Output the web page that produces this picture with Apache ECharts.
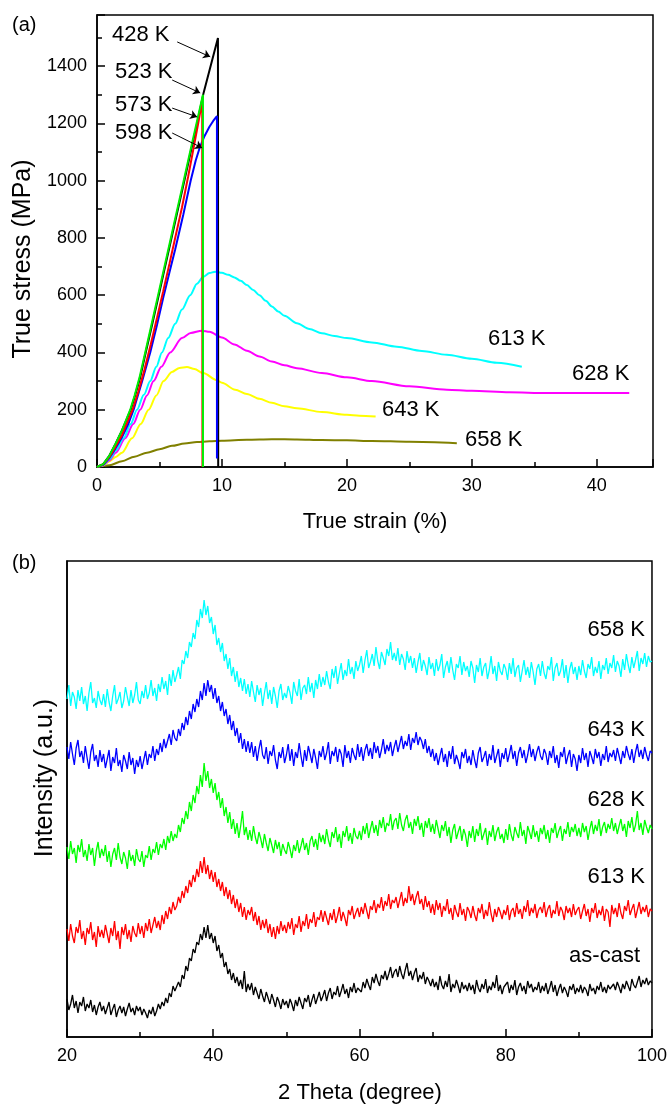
<!DOCTYPE html>
<html>
<head>
<meta charset="utf-8">
<script src="https://cdn.jsdelivr.net/npm/echarts@6/dist/echarts.min.js"></script>
<style>
html, body { margin: 0; padding: 0; background: #fff; }
#main { width: 670px; height: 1106px; }
</style>
</head>
<body>
<div id="main"></div>
<script>
// (a) 真应力-真应变曲线, 每个点 [应变 %, 应力 MPa]
var curve428 = [[0,0],[0.5,10],[1,40],[1.5,82],[2,128],[2.7,200],[3.05,250],[3.45,312],[3.9,400],[4.4,495],[4.9,592],[5.4,690],[5.9,787],[6.4,885],[6.9,982],[7.45,1090],[8,1197],[8.53,1306],[9.68,1498],[9.7,0]];
var curve523 = [[0,0],[0.5,10],[1,40],[1.5,82],[2,128],[2.66,200],[3,248],[3.4,312],[3.86,400],[4.35,495],[4.85,592],[5.35,690],[5.85,787],[6.35,885],[6.85,982],[7.4,1090],[7.95,1197],[8.48,1300],[8.48,0]];
var curve573 = [[0,0],[0.5,9],[1,35],[1.5,72],[2,112],[2.85,200],[3.3,262],[3.8,340],[4.3,428],[4.8,520],[5.3,614],[5.8,710],[6.3,808],[6.8,906],[7.3,1015],[7.8,1130],[8.1,1200],[8.42,1278],[8.44,0]];
var curve598 = [[0,0],[0.5,8],[1,32],[1.5,66],[2,104],[2.5,150],[2.93,200],[3.6,298],[4.26,400],[4.8,496],[5.35,600],[5.8,680],[6.26,760],[6.9,880],[7.5,1000],[7.9,1070],[8.2,1112],[8.6,1155],[9,1188],[9.3,1208],[9.6,1225],[9.6,30]];
var curve613 = [[0,0],[0.5,7],[1,28],[1.5,58],[2.13,100],[2.7,150],[3.2,200],[3.75,252],[4.26,300],[4.75,350],[5.2,400],[5.7,450],[6.26,500],[6.8,550],[7.46,600],[8,640],[8.5,664],[9,677],[9.46,682],[10,678],[10.5,671],[11,662],[11.5,650],[12,635],[12.5,618],[13,600],[13.5,580],[14,560],[14.5,543],[15,528],[16,502],[17,482],[18,467],[19,457],[20,450],[22,435],[24,420],[26,405],[28,392],[30,378],[32,364],[34,350]];
var curve628 = [[0,0],[0.5,6],[1,24],[1.5,50],[2.26,100],[2.9,150],[3.46,200],[4,250],[4.53,300],[5.15,350],[5.86,400],[6.8,450],[7.5,468],[8.4,476],[9,472],[10,452],[11,428],[12,406],[13,386],[14,368],[15,355],[16,345],[18,328],[20,313],[22,300],[25,282],[28,270],[30,266],[33,261],[36,258],[40,258],[42.6,258]];
var curve643 = [[0,0],[0.5,6],[1,20],[1.5,35],[2,50],[2.8,100],[3.5,150],[4.13,200],[4.75,250],[5.33,300],[6,332],[6.6,346],[7.2,349],[7.8,342],[8.5,328],[9.6,303],[10,294],[11.06,270],[12,255],[13,238],[14,224],[15,212],[16,205],[18,192],[20,182],[21,179],[22.3,176]];
var curve658 = [[0,0],[1,6],[2,20],[3,36],[4,50],[5,62],[6,74],[7,82],[8,87],[9,90],[10,92],[12,95],[14,97],[16,96],[18,94],[20,93],[22,91],[25,88],[28.8,83]];

var strainTicks = [0, 10, 20, 30, 40];
var stressTicks = [0, 200, 400, 600, 800, 1000, 1200, 1400];

// (b) XRD 谱, 2θ 从 20 到 100, 步长 0.25 (强度为堆叠后的 a.u.)
var thetaStart = 20, thetaStep = 0.25;
var xrdAsCast = [
38,27,33,42,29,36,24,35,31,40,26,33,29,37,25,32,22,30,35,26,
31,23,29,35,22,28,33,20,27,31,24,30,21,28,34,25,29,22,31,26,
30,22,28,24,19,27,23,30,21,26,33,28,35,31,39,34,44,40,51,46,
45,55,50,62,58,71,66,79,76,88,84,95,92,103,97,110,99,112,98,104,
94,101,86,92,79,84,70,75,63,68,57,64,54,60,51,57,48,66,45,53,
47,54,42,50,44,38,48,41,35,45,39,33,43,37,30,40,35,28,38,32,
36,29,38,33,26,37,31,40,34,28,39,35,42,30,37,43,33,39,45,36,
41,47,36,44,49,38,45,42,51,40,46,53,43,48,39,50,45,54,44,49,
51,45,55,49,58,52,47,60,54,63,56,51,62,58,66,57,63,70,59,65,
68,60,71,63,58,67,74,61,66,57,64,69,55,62,58,65,53,60,56,51,
58,50,55,47,61,52,48,56,50,63,45,53,49,57,51,44,55,48,52,46,
54,47,52,43,57,49,45,53,48,58,44,51,47,55,49,62,46,52,43,50,
48,55,44,52,47,57,42,50,54,46,51,43,56,49,53,45,50,47,55,44,
51,46,54,43,49,56,45,52,41,48,53,44,50,46,40,51,47,53,43,49,
45,52,44,50,47,41,53,46,49,43,51,47,55,45,50,44,52,48,46,53,
47,55,50,44,53,48,56,51,46,58,52,49,55,61,50,57,53,59,52,56,
54];
var xrd613 = [
108,96,113,101,94,110,104,117,98,106,92,109,103,115,97,105,90,111,100,107,
99,112,103,94,109,101,116,97,106,88,110,102,113,98,107,95,111,104,100,114,
103,111,99,114,106,118,104,112,120,109,116,107,122,113,126,118,130,123,135,127,
131,140,134,146,139,151,144,157,150,162,155,168,160,176,164,180,163,172,158,167,
155,165,150,158,146,155,141,150,138,147,133,142,129,138,125,134,120,130,117,127,
122,130,116,125,112,121,107,117,109,118,104,113,100,110,98,111,103,116,106,112,
104,115,108,119,102,113,109,121,105,116,111,123,108,118,114,125,110,120,117,127,
115,126,119,112,124,117,128,114,121,130,116,125,119,111,127,122,131,118,124,129,
120,130,123,134,126,118,131,127,137,124,133,129,140,126,136,131,143,128,137,134,
140,129,137,145,131,139,134,151,136,143,132,140,146,133,138,127,141,130,136,124,
133,122,137,127,134,120,131,126,138,123,129,117,132,125,120,134,122,128,116,130,
126,119,131,122,116,129,124,133,118,127,121,135,123,115,128,120,130,125,118,127,
122,132,117,126,129,120,134,123,128,118,131,125,137,121,129,124,133,119,127,130,
124,135,120,128,132,119,127,123,136,121,130,126,117,131,124,129,120,133,122,127,
130,118,126,133,121,128,115,129,124,134,119,127,122,131,116,128,125,110,132,123,
129,120,134,124,118,131,126,137,122,128,133,119,127,135,123,130,125,132,120,128,
126];
var xrd628 = [
190,178,196,183,189,174,192,185,198,180,187,176,193,182,189,171,186,195,179,188,
181,192,175,186,170,183,189,177,194,180,173,185,179,168,187,176,182,171,188,178,
175,186,170,182,179,191,177,188,184,195,182,193,189,198,187,201,194,206,196,203,
199,212,205,219,213,226,218,235,226,242,234,251,243,262,250,274,256,266,249,258,
244,254,237,245,229,239,221,230,214,225,208,218,203,214,199,211,226,202,210,197,
207,196,211,200,193,205,198,189,203,194,186,199,192,184,197,188,195,181,193,187,
183,195,188,179,192,186,197,184,191,199,187,194,182,196,201,190,198,187,204,195,
202,193,208,197,190,205,199,210,195,203,189,206,200,211,196,204,193,209,201,198,
206,197,211,203,214,199,208,216,204,212,201,217,209,220,205,214,211,223,207,216,
219,208,224,212,206,217,222,209,215,203,218,211,221,207,214,200,216,209,219,205,
213,203,217,208,199,212,206,216,201,210,194,207,213,198,205,211,196,208,202,190,
206,199,211,195,208,201,214,197,203,209,192,206,200,212,196,205,210,198,203,194,
208,197,213,202,196,210,204,199,215,201,207,193,211,205,198,212,200,206,195,209,
203,212,198,207,194,209,204,214,199,206,211,196,208,203,215,200,210,205,213,201,
209,200,214,205,211,197,208,216,203,212,206,218,201,210,215,204,213,208,219,206,
214,203,211,218,206,213,200,216,209,220,205,212,226,207,214,202,217,210,204,212,
208];
var xrd643 = [
290,278,295,283,272,289,297,280,286,274,291,279,268,285,293,276,282,270,287,275,
283,269,278,287,266,280,274,289,271,277,265,282,276,268,285,272,279,263,277,270,
281,268,277,286,272,283,279,291,276,288,282,294,285,298,289,296,303,292,307,299,
296,308,301,314,307,320,312,326,318,333,325,338,330,346,337,354,341,357,345,352,
338,349,334,341,326,335,321,328,313,322,307,316,301,309,294,304,288,298,285,296,
284,295,280,291,276,288,297,282,278,290,273,286,281,292,277,268,285,279,290,274,
282,293,276,288,271,285,279,294,281,270,287,276,291,283,274,288,279,268,286,280,
291,277,284,295,273,286,281,290,275,288,283,270,292,279,286,274,289,282,277,293,
280,290,276,287,293,281,289,278,295,284,291,279,287,298,283,292,286,295,281,290,
297,285,293,301,288,296,291,303,287,299,294,305,292,300,296,288,298,284,291,280,
288,276,284,272,281,289,275,283,270,286,278,291,273,282,276,268,285,279,288,274,
281,272,287,277,269,284,290,275,280,286,271,283,277,292,274,281,288,270,284,278,
289,275,283,292,278,286,271,284,290,279,287,274,282,293,280,288,276,285,291,281,
277,288,283,272,286,279,291,274,282,269,285,280,290,273,281,287,270,283,278,266,
282,274,289,277,284,270,286,280,273,288,279,285,271,283,277,291,275,284,280,287,
276,289,281,273,286,279,291,283,277,288,274,285,293,280,287,278,290,282,276,286,
284];
var xrd658 = [
338,352,331,345,340,328,347,336,350,333,341,326,344,355,334,339,329,346,337,332,
343,330,348,335,326,341,352,333,338,345,329,336,350,340,331,347,334,342,355,337,
333,346,339,352,338,344,357,341,349,336,353,345,360,348,356,342,363,351,367,355,
362,370,358,377,373,386,379,395,390,404,398,417,410,428,419,437,422,431,414,420,
403,412,392,399,385,394,376,383,368,379,361,370,355,366,350,359,346,358,343,353,
340,356,345,335,352,342,349,331,344,355,338,347,333,350,341,329,346,353,337,344,
339,351,344,333,355,346,341,358,337,349,352,343,360,345,354,339,357,348,363,350,
360,352,366,355,348,368,359,371,353,364,374,357,367,361,378,363,370,358,376,366,
372,381,364,377,387,369,375,383,371,390,376,368,385,379,372,388,381,395,377,384,
376,389,372,383,378,367,386,374,381,369,379,364,375,384,366,377,371,362,380,368,
374,361,378,366,372,383,359,370,376,364,380,367,357,373,369,381,362,375,366,371,
360,376,369,354,372,365,379,361,370,374,358,367,381,363,371,356,375,366,362,373,
368,357,374,363,379,360,369,372,355,366,377,362,370,359,375,365,352,368,373,361,
376,364,358,371,367,380,356,369,374,361,366,378,359,372,354,368,375,363,370,357,
371,362,377,366,359,373,368,380,361,370,364,376,358,372,367,379,363,374,369,382,
365,376,371,360,378,367,383,372,364,380,369,377,386,366,379,373,384,370,381,375,
376];
var thetaTicks = [20, 40, 60, 80, 100];

var FONT = 'Liberation Sans, Arial, sans-serif';

// 把强度数组配上 2θ
function withTheta(arr) {
    var out = [];
    for (var i = 0; i < arr.length; i++) {
        out.push([thetaStart + i * thetaStep, arr[i]]);
    }
    return out;
}

function stressLine(name, data, color, smooth) {
    return {
        type: 'line', name: name, xAxisIndex: 0, yAxisIndex: 0,
        data: data, showSymbol: false, symbol: 'none',
        smooth: smooth || false, smoothMonotone: 'x',
        lineStyle: { color: color, width: 2 }, silent: true
    };
}

function xrdLine(name, data, color) {
    return {
        type: 'line', name: name, xAxisIndex: 1, yAxisIndex: 1,
        data: withTheta(data), showSymbol: false, symbol: 'none',
        lineStyle: { color: color, width: 1.3 }, silent: true
    };
}

function axisBase() {
    return {
        type: 'value',
        axisLine: { show: true, lineStyle: { color: '#000', width: 1.5 } },
        axisTick: { show: true, inside: true, length: 8, lineStyle: { color: '#000', width: 1.5 } },
        minorTick: { show: true, splitNumber: 2, length: 5, lineStyle: { color: '#000', width: 1.5 } },
        splitLine: { show: false },
        axisLabel: { color: '#000', fontSize: 18, fontFamily: FONT, margin: 10 }
    };
}

function onTick(list) {
    return function (v) { return list.indexOf(v) >= 0 ? String(v) : ''; };
}

var xa = axisBase();
xa.gridIndex = 0; xa.min = 0; xa.max = 44.5; xa.interval = 10;
xa.axisLabel.formatter = onTick(strainTicks);

var ya = axisBase();
ya.gridIndex = 0; ya.min = 0; ya.max = 1578; ya.interval = 200;
ya.axisLabel.formatter = onTick(stressTicks);

var xb = axisBase();
xb.gridIndex = 1; xb.min = 20; xb.max = 100; xb.interval = 20;
xb.axisLabel.formatter = onTick(thetaTicks);

var yb = axisBase();
yb.gridIndex = 1; yb.min = 0; yb.max = 476;
yb.axisTick = { show: false };
yb.minorTick = { show: false };
yb.axisLabel = { show: false };

var black = stressLine('428 K', curve428, '#000000');
// 标注箭头
black.markLine = {
    silent: true, animation: false,
    symbol: ['none', 'arrow'], symbolSize: 7,
    label: { show: false },
    lineStyle: { color: '#000', width: 1, type: 'solid' },
    data: [
        [{ coord: [6.42, 1484] }, { coord: [9.06, 1432] }],
        [{ coord: [6.02, 1351] }, { coord: [8.26, 1306] }],
        [{ coord: [6.02, 1253] }, { coord: [8.02, 1222] }],
        [{ coord: [6.02, 1166] }, { coord: [8.42, 1114] }]
    ]
};

function txt(x, y, s, size, align, rot) {
    return {
        type: 'text', x: x, y: y, rotation: rot || 0, silent: true,
        style: { text: s, fill: '#000', font: size + 'px ' + FONT, align: align || 'left', verticalAlign: 'middle' }
    };
}

var option = {
    animation: false,
    backgroundColor: '#fff',
    grid: [
        { left: 97, top: 15, width: 556, height: 452, show: true, borderColor: '#000', borderWidth: 1.5, backgroundColor: 'transparent' },
        { left: 67, top: 561, width: 586, height: 476, show: true, borderColor: '#000', borderWidth: 1.5, backgroundColor: 'transparent' }
    ],
    xAxis: [xa, xb],
    yAxis: [ya, yb],
    series: [
        stressLine('658 K', curve658, '#808000', 0.3),
        stressLine('643 K', curve643, '#ffff00', 0.3),
        stressLine('628 K', curve628, '#ff00ff', 0.3),
        stressLine('613 K', curve613, '#00ffff', 0.3),
        black,
        stressLine('598 K', curve598, '#0000ff'),
        stressLine('573 K', curve573, '#ff0000'),
        stressLine('523 K', curve523, '#00ee00'),
        xrdLine('as-cast', xrdAsCast, '#000000'),
        xrdLine('613 K', xrd613, '#ff0000'),
        xrdLine('628 K', xrd628, '#00ff00'),
        xrdLine('643 K', xrd643, '#0000ff'),
        xrdLine('658 K', xrd658, '#00ffff')
    ],
    graphic: [
        txt(12, 25, '(a)', 20),
        txt(12, 563, '(b)', 20),
        txt(112, 35, '428 K', 22),
        txt(115, 72, '523 K', 22),
        txt(115, 105, '573 K', 22),
        txt(115, 133, '598 K', 22),
        txt(488, 339, '613 K', 22),
        txt(572, 374, '628 K', 22),
        txt(382, 410, '643 K', 22),
        txt(465, 440, '658 K', 22),
        txt(645, 630, '658 K', 22, 'right'),
        txt(645, 730, '643 K', 22, 'right'),
        txt(645, 800, '628 K', 22, 'right'),
        txt(645, 877, '613 K', 22, 'right'),
        txt(640, 956, 'as-cast', 22, 'right'),
        txt(23, 259, 'True stress (MPa)', 25, 'center', Math.PI / 2),
        txt(375, 522, 'True strain (%)', 22, 'center'),
        txt(45, 778, 'Intensity (a.u.)', 25, 'center', Math.PI / 2),
        txt(360, 1093, '2 Theta (degree)', 22, 'center')
    ]
};

var chart = echarts.init(document.getElementById('main'));
chart.setOption(option);
</script>
</body>
</html>
